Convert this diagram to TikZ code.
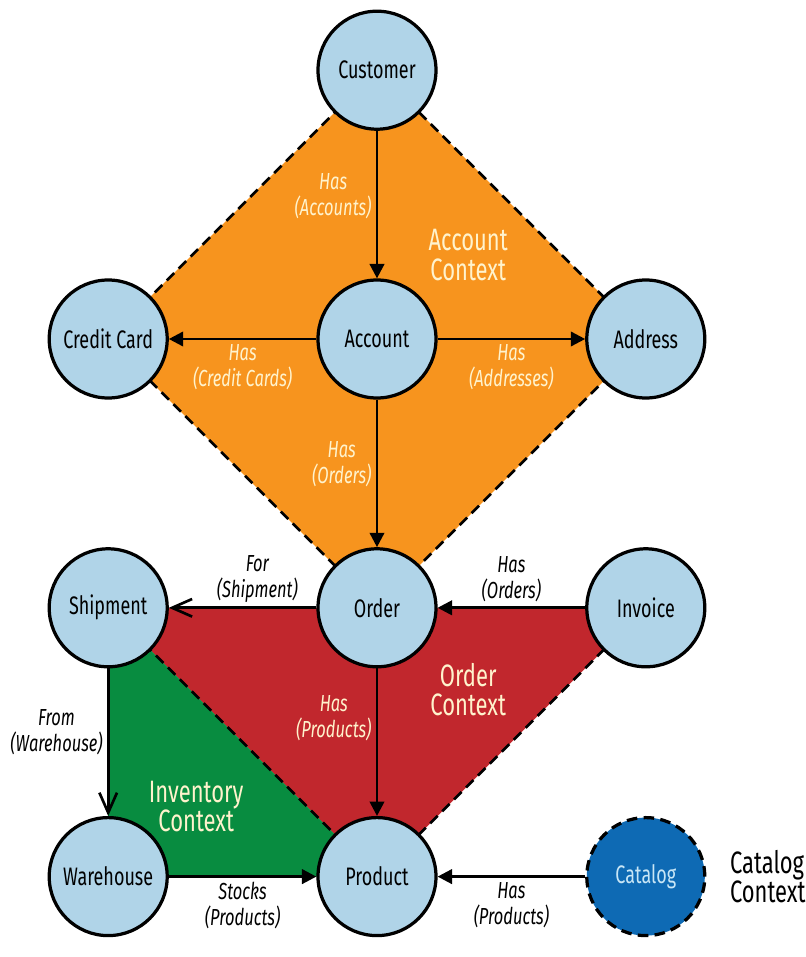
\documentclass[tikz,border=0pt]{standalone}
\usepackage{fontspec}
\setmainfont{Fira Sans}[FakeStretch=0.71]
\usetikzlibrary{arrows.meta,positioning,calc,backgrounds}
\definecolor{entityblue}{RGB}{176,212,232}
\definecolor{catalogblue}{RGB}{14,106,180}
\definecolor{acctorange}{RGB}{247,148,30}
\definecolor{orderred}{RGB}{193,39,45}
\definecolor{invgreen}{RGB}{8,140,64}
\definecolor{cream}{RGB}{255,243,205}
\definecolor{paleblue}{RGB}{200,230,246}

\begin{document}
\begin{tikzpicture}[
    on grid, node distance=6.72cm,
    ent/.style={circle,draw=black,line width=2.3pt,fill=entityblue,minimum size=2.95cm,
      inner sep=0pt,font=\fontsize{18}{21}\selectfont},
    lbl/.style={align=center,font=\fontsize{16.5}{18.5}\selectfont\itshape,inner sep=3pt},
    ctx/.style={align=center,font=\fontsize{22}{21}\selectfont,text=cream},
    bound/.style={draw=black,line width=1.9pt,dash pattern=on 7.5pt off 4.5pt},
    a/.style={-{Triangle[length=3.6mm,width=3.6mm]},line width=1.9pt},
    o/.style={-{Straight Barb[length=5mm,width=4.4mm]},line width=1.9pt}]
    \useasboundingbox (-9.425,-15.45) rectangle (10.725,8.475);
    % entities on a 3x4 grid
    \node[ent] (account) {Account};
    \node[ent,above=of account] (customer) {Customer};
    \node[ent,left=of account] (card) {Credit Card};
    \node[ent,right=of account] (address) {Address};
    \node[ent,below=of account] (order) {Order};
    \node[ent,left=of order] (shipment) {Shipment};
    \node[ent,right=of order] (invoice) {Invoice};
    \node[ent,below=of order] (product) {Product};
    \node[ent,left=of product] (warehouse) {Warehouse};
    \node[ent,right=of product,fill=catalogblue,text=paleblue,dash pattern=on 7.5pt off 4.5pt] (catalog) {Catalog};
    % contexts
    \begin{scope}[on background layer]
      \fill[acctorange] (customer.center) -- (card.center) -- (order.center) -- (address.center) -- cycle;
      \fill[orderred] (shipment.center) -- (invoice.center) -- (product.center) -- cycle;
      \fill[invgreen] (shipment.center) -- (warehouse.center) -- (product.center) -- cycle;
      \draw[bound] (customer.center) -- (card.center) -- (order.center) -- (address.center) -- cycle;
      \draw[bound] (shipment.center) -- (product.center) -- (invoice.center);
    \end{scope}
    \node[ctx,above right=2.1cm and 2.28cm of account] (acctctx) {Account\\Context};
    \node[ctx,below right=2.05cm and 2.28cm of order] (orderctx) {Order\\Context};
    \node[ctx,above right=1.75cm and 2.2cm of warehouse] (invctx) {Inventory\\Context};
    \node[ctx,right=3.05cm of catalog,text=black,align=left] (catctx) {Catalog\\Context};
    % relations
    \draw[a] (customer) -- node[lbl,left,pos=0.44,text=cream]{Has\\(Accounts)} (account);
    \draw[a] (account) -- node[lbl,below,text=cream]{Has\\(Credit Cards)} (card);
    \draw[a] (account) -- node[lbl,below,text=cream]{Has\\(Addresses)} (address);
    \draw[a] (account) -- node[lbl,left,pos=0.44,text=cream]{Has\\(Orders)} (order);
    \draw[o] (order) -- node[lbl,above,pos=0.4]{For\\(Shipment)} (shipment);
    \draw[a] (invoice) -- node[lbl,above]{Has\\(Orders)} (order);
    \draw[a] (order) -- node[lbl,left,pos=0.34,text=cream]{Has\\(Products)} (product);
    \draw[o] (shipment) -- node[lbl,left,pos=0.43]{From\\(Warehouse)} (warehouse);
    \draw[a] (warehouse) -- node[lbl,below]{Stocks\\(Products)} (product);
    \draw[a] (catalog) -- node[lbl,below]{Has\\(Products)} (product);
\end{tikzpicture}
\end{document}
